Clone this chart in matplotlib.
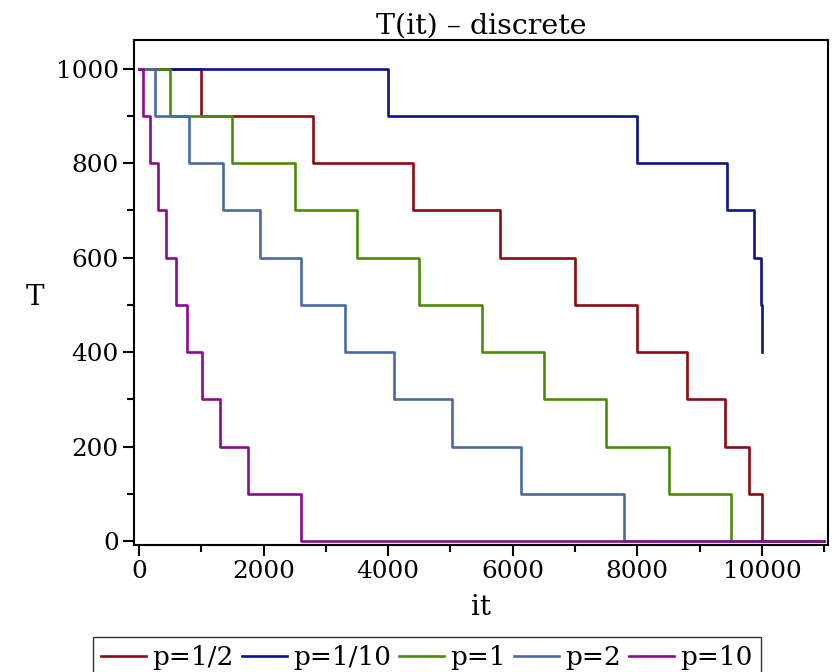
import matplotlib
matplotlib.use('Agg')
import matplotlib.pyplot as plt
from matplotlib.ticker import MultipleLocator

plt.rcParams['font.family'] = ['DejaVu Serif']

# iteration at which T drops by 100 (last entry = end of run)
it_half = [0, 1000, 2800, 4400, 5800, 7000, 8000, 8800, 9400, 9800, 10000, 11000]
T_half = [1000, 900, 800, 700, 600, 500, 400, 300, 200, 100, 0, 0]

it_tenth = [0, 4000, 8000, 9440, 9870, 9980, 10000]
T_tenth = [1000, 900, 800, 700, 600, 500, 400]

it_one = [0, 500, 1500, 2500, 3500, 4500, 5500, 6500, 7500, 8500, 9500, 10500]
T_one = [1000, 900, 800, 700, 600, 500, 400, 300, 200, 100, 0, 0]

it_two = [0, 250, 800, 1350, 1950, 2600, 3300, 4100, 5020, 6140, 7790, 11000]
T_two = [1000, 900, 800, 700, 600, 500, 400, 300, 200, 100, 0, 0]

it_ten = [0, 60, 177, 300, 428, 594, 775, 1006, 1305, 1745, 2605, 11000]
T_ten = [1000, 900, 800, 700, 600, 500, 400, 300, 200, 100, 0, 0]

fig = plt.figure(figsize=(8.35, 6.72), dpi=100)
ax = fig.add_axes([0.1605, 0.189, 0.8311, 0.7515])

lw = 1.9
ax.plot(it_half, T_half, drawstyle='steps-post', color='#8c0a14', lw=lw, label='p=1/2')
ax.plot(it_tenth, T_tenth, drawstyle='steps-post', color='#0a148c', lw=lw, label='p=1/10')
ax.plot(it_one, T_one, drawstyle='steps-post', color='#4e8a0a', lw=lw, label='p=1')
ax.plot(it_two, T_two, drawstyle='steps-post', color='#4a6aa0', lw=lw, label='p=2')
ax.plot(it_ten, T_ten, drawstyle='steps-post', color='#8c0a8c', lw=lw, label='p=10')

ax.set_xlim(-80, 11060)
ax.set_ylim(-8.5, 1061)

ax.xaxis.set_major_locator(MultipleLocator(2000))
ax.xaxis.set_minor_locator(MultipleLocator(1000))
ax.yaxis.set_major_locator(MultipleLocator(200))
ax.yaxis.set_minor_locator(MultipleLocator(100))
ax.tick_params(which='major', direction='out', length=8, width=1.5, labelsize=17.8, pad=3)
ax.tick_params(which='minor', direction='out', length=5, width=1.5)
ax.tick_params(top=False, right=False)
for s in ax.spines.values():
    s.set_linewidth(1.5)

ax.set_title('T(it) – discrete', fontsize=20.5, pad=3)
ax.set_xlabel('it', fontsize=20, labelpad=8)
ax.set_ylabel('T', fontsize=20, rotation=0, va='center')
ax.yaxis.set_label_coords(-0.143, 0.49)

fig.legend(loc='upper left', bbox_to_anchor=(93 / 835, 1 - 637 / 672), ncol=5,
           fontsize=19, frameon=True, fancybox=False, edgecolor='#333333',
           handlelength=1.7, handletextpad=0.25, columnspacing=0.3,
           borderpad=0.3, borderaxespad=0, framealpha=1)

fig.savefig('out.png', dpi=100)
